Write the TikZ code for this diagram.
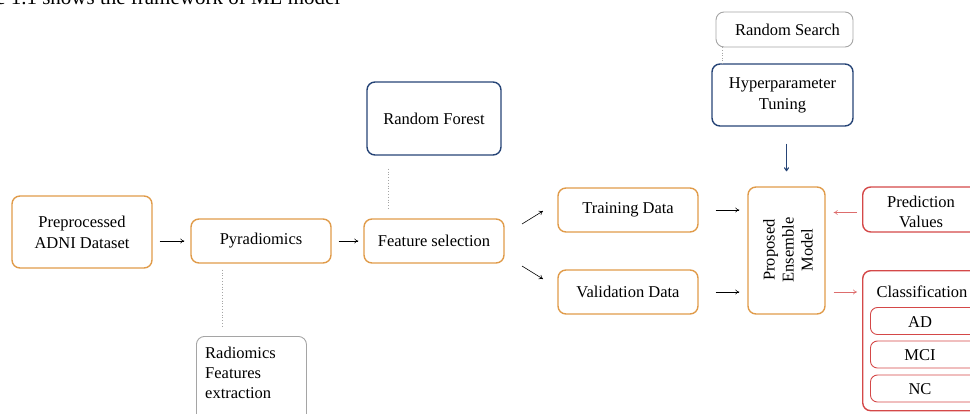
\documentclass[tikz,border=0pt]{standalone}
\usepackage{fontspec}
\setmainfont{Liberation Serif}
\usetikzlibrary{arrows.meta,calc}
\definecolor{borange}{RGB}{224,155,74}
\definecolor{bblue}{RGB}{38,68,118}
\definecolor{bred}{RGB}{212,72,72}
\definecolor{bgray}{RGB}{165,165,165}
\tikzset{
  txt/.style={font=\fontsize{16.5}{21}\selectfont},
  box/.style={draw, rounded corners=8pt, line width=1.4pt, inner sep=0pt,
    txt, align=center},
  obox/.style={box, draw=borange},
  ubox/.style={box, draw=bblue},
  rbox/.style={box, draw=bred},
  gbox/.style={box, draw=bgray, line width=0.9pt},
  conn/.style={-{To[length=4pt,width=5pt]}, line width=0.6pt},
  dots/.style={bgray, dotted, line width=0.8pt},
}
\begin{document}
\begin{tikzpicture}[x=1pt,y=-1pt]
\useasboundingbox (0,0) rectangle (970,413);
\clip (0,0) rectangle (970,413);
\node[anchor=base west, font=\fontsize{21}{24}\selectfont, inner sep=0pt] (title) at (-4,4) {e 1.1 shows the framework of ML model};
% boxes
\node[obox, minimum width=140pt, minimum height=72pt] (pre) at (82,232) {Preprocessed\\ADNI Dataset};
\node[obox, minimum width=140pt, minimum height=44pt] (pyr) at (261,241) {Pyradiomics};
\node[obox, minimum width=140pt, minimum height=44pt] (fs) at (434,241) {Feature selection};
\node[ubox, minimum width=134pt, minimum height=73pt] (rf) at (434,118.5) {Random Forest};
\node[gbox, minimum width=110pt, minimum height=100pt, anchor=north west] (rad) at (196,336) {};
\node[anchor=north west, inner sep=0pt, txt, align=left, font=\fontsize{16.5}{20}\selectfont] (radt) at (205,347) {Radiomics\\Features\\extraction};
\node[obox, minimum width=140pt, minimum height=44pt] (tr) at (628,210) {Training Data};
\node[obox, minimum width=140pt, minimum height=44pt] (va) at (628,292) {Validation Data};
\node[obox, minimum width=77pt, minimum height=127pt] (ens) at (786.5,250.5) {};
\node[rotate=90, font=\fontsize{16.5}{19}\selectfont, align=center, inner sep=0pt] (enst) at (788,250) {Proposed\\Ensemble\\Model};
\node[gbox, minimum width=137pt, minimum height=35pt] (rs) at (784.5,29.5) {\hspace*{6pt}Random Search};
\node[ubox, minimum width=141pt, minimum height=62pt] (hp) at (782.5,95) {Hyperparameter\\Tuning};
\node[rbox, minimum width=140pt, minimum height=45pt, anchor=west] (pv) at (862,209.5) {};
\node[txt, align=center, inner sep=0pt, font=\fontsize{16.5}{20}\selectfont] (pvt) at (921,212) {Prediction\\Values};
\node[rbox, minimum width=140pt, minimum height=140pt, anchor=north west] (cl) at (862,270) {};
\node[txt, inner sep=0pt] (clt) at (922,292) {Classification};
\tikzset{sub/.style={draw=bred, line width=0.9pt, rounded corners=7pt, minimum width=130pt, minimum height=27pt, anchor=west, inner sep=0pt}}
\node[sub] (ad) at (870,321) {};
\node[txt, inner sep=0pt] at (920,322) {AD};
\node[sub] (mci) at (870,354.5) {};
\node[txt, inner sep=0pt] at (920,355) {MCI};
\node[sub] (nc) at (870,388.5) {};
\node[txt, inner sep=0pt] at (920,389) {NC};
% connectors
\draw[conn] ($(pre.east |- pyr.west)+(7,0)$) -- ($(pyr.west)+(-6,0)$);
\draw[conn] ($(pyr.east)+(7,0)$) -- ($(fs.west)+(-5,0)$);
\draw[dots] ($(rf.south -| 388,0)+(0,13)$) -- ($(fs.north -| 388,0)+(0,-9)$);
\draw[dots] ($(pyr.south -| 222,0)+(0,6)$) -- ($(rad.north -| 222,0)+(0,-9)$);
\coordinate (s1) at (522,224);
\coordinate (s2) at (522,266);
\draw[conn] (s1) -- (543,211);
\draw[conn] (s2) -- (543,279);
\draw[conn] ($(tr.east)+(17,0)$) -- ($(ens.west |- tr.east)+(-8,0)$);
\draw[conn] ($(va.east)+(17,0)$) -- ($(ens.west |- va.east)+(-8,0)$);
\draw[dots, line width=0.6pt] (rs.south -| 722,0) -- (hp.north -| 722,0);
\draw[conn, bblue, line width=1.1pt] ($(hp.south -| ens.north)+(0,17)$) -- ($(ens.north)+(0,-15)$);
\draw[conn, bred!80] ($(pv.west)+(-5,3)$) -- ($(ens.east |- pv.west)+(8,3)$);
\draw[conn, bred!80] ($(ens.east |- va.east)+(8,0)$) -- ($(cl.west |- va.east)+(-5,0)$);
\end{tikzpicture}
\end{document}
